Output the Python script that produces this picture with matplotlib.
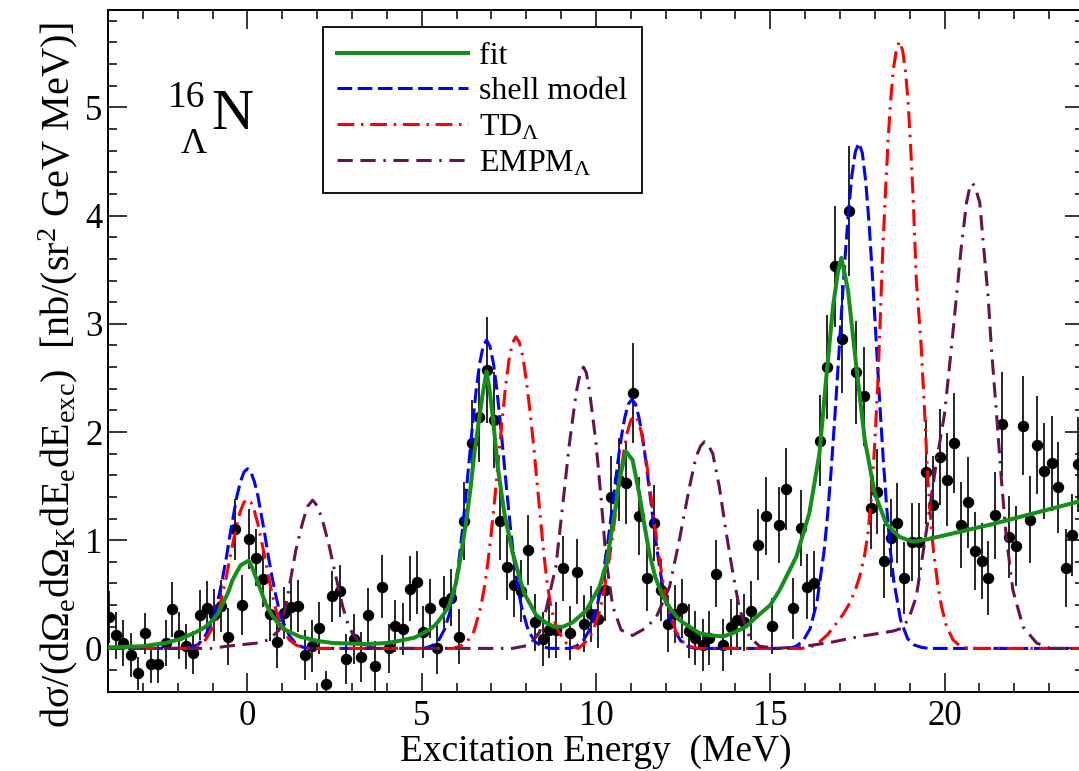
import matplotlib
matplotlib.use("Agg")
import numpy as np
import matplotlib.pyplot as plt
from matplotlib.ticker import MultipleLocator

plt.rcParams['font.family'] = ['Liberation Serif', 'DejaVu Serif']
plt.rcParams['mathtext.fontset'] = 'custom'
plt.rcParams['mathtext.rm'] = 'Liberation Serif'
plt.rcParams['mathtext.it'] = 'Liberation Serif:italic'
plt.rcParams['mathtext.bf'] = 'Liberation Serif:bold'

# - measured spectrum (excitation energy [MeV], cross section, error)
e_data = [-3.97, -3.76, -3.57, -3.34, -3.15, -2.95, -2.76, -2.56, -2.35, -2.15,
          -1.96, -1.75, -1.55, -1.36, -1.16, -0.95, -0.76, -0.55, -0.36, -0.16,
          0.05, 0.24, 0.45, 0.64, 0.84, 1.05, 1.25, 1.46, 1.66, 1.85,
          2.04, 2.25, 2.44, 2.65, 2.84, 3.06, 3.25, 3.45, 3.66, 3.85,
          4.05, 4.24, 4.45, 4.65, 4.86, 5.04, 5.24, 5.45, 5.64, 5.84,
          6.06, 6.22, 6.43, 6.65, 6.86, 7.07, 7.25, 7.45, 7.66, 7.86,
          8.05, 8.26, 8.47, 8.66, 8.85, 9.05, 9.26, 9.46, 9.65, 9.86,
          10.06, 10.27, 10.44, 10.65, 10.86, 11.05, 11.24, 11.46, 11.66, 11.87,
          12.06, 12.27, 12.46, 12.66, 12.85, 13.07, 13.25, 13.44, 13.64, 13.86,
          14.04, 14.24, 14.45, 14.64, 14.87, 15.05, 15.25, 15.46, 15.65, 15.87,
          16.06, 16.25, 16.44, 16.63, 16.85, 17.05, 17.26, 17.46, 17.68, 17.88,
          18.07, 18.26, 18.45, 18.64, 18.85, 19.06, 19.26, 19.46, 19.67, 19.86,
          20.07, 20.26, 20.47, 20.66, 20.87, 21.06, 21.26, 21.46, 21.66, 21.85,
          22.06, 22.25, 22.46, 22.65, 22.86, 23.07, 23.26, 23.47, 23.66, 23.83]
xs_data = [0.29, 0.12, 0.05, -0.06, -0.23, 0.14, -0.14, -0.14, 0.05, 0.36,
           0.12, 0.02, -0.04, 0.31, 0.37, 0.31, 0.39, 0.11, 1.10, 0.40,
           1.01, 0.84, 0.64, 0.32, 0.06, 0.33, 0.38, 0.39, -0.06, 0.02,
           0.19, -0.33, 0.48, 0.53, -0.10, 0.09, -0.08, 0.31, -0.16, 0.57,
           0.00, 0.21, 0.18, 0.55, 0.61, 0.15, 0.37, 0.00, 0.43, 0.47,
           0.11, 1.18, 1.90, 2.14, 2.57, 2.11, 1.18, 0.75, 0.59, 0.53,
           0.91, 0.24, 0.09, 0.17, 0.17, 0.74, 0.14, 0.71, 0.23, 0.32,
           0.27, 0.54, 1.40, 1.56, 1.53, 2.36, 1.22, 0.65, 1.16, 0.54,
           0.23, 0.32, 0.37, 0.16, 0.10, 0.03, 0.10, 0.69, 0.03, 0.20,
           0.26, 0.24, 0.35, 0.96, 1.22, 0.21, 1.14, 1.47, 0.37, 1.11,
           0.57, 0.60, 1.92, 2.60, 3.53, 2.86, 4.04, 2.55, 2.33, 1.30,
           1.45, 0.81, 1.02, 1.16, 0.65, 0.98, 0.98, 1.63, 1.33, 1.77,
           1.56, 1.90, 1.14, 1.35, 0.90, 0.81, 0.65, 1.23, 2.07, 1.03,
           0.95, 2.06, 1.19, 1.88, 1.64, 1.71, 1.49, 0.74, 1.05, 1.70]
err_data = [0.24, 0.22, 0.21, 0.20, 0.15, 0.19, 0.18, 0.18, 0.21, 0.25,
            0.22, 0.21, 0.20, 0.23, 0.25, 0.24, 0.24, 0.26, 0.28, 0.28,
            0.28, 0.26, 0.26, 0.25, 0.24, 0.24, 0.25, 0.24, 0.23, 0.24,
            0.24, 0.12, 0.24, 0.24, 0.23, 0.23, 0.23, 0.25, 0.23, 0.29,
            0.23, 0.24, 0.24, 0.30, 0.29, 0.24, 0.27, 0.24, 0.24, 0.26,
            0.25, 0.36, 0.40, 0.42, 0.49, 0.44, 0.36, 0.30, 0.30, 0.29,
            0.32, 0.26, 0.25, 0.26, 0.26, 0.30, 0.25, 0.30, 0.26, 0.26,
            0.27, 0.29, 0.38, 0.38, 0.38, 0.46, 0.36, 0.30, 0.35, 0.29,
            0.26, 0.27, 0.27, 0.25, 0.25, 0.24, 0.25, 0.31, 0.24, 0.26,
            0.26, 0.26, 0.27, 0.33, 0.36, 0.26, 0.35, 0.38, 0.28, 0.35,
            0.30, 0.30, 0.42, 0.48, 0.56, 0.50, 0.60, 0.48, 0.46, 0.38,
            0.39, 0.34, 0.36, 0.37, 0.33, 0.36, 0.36, 0.48, 0.45, 0.44,
            0.43, 0.46, 0.40, 0.42, 0.36, 0.35, 0.34, 0.40, 0.48, 0.38,
            0.37, 0.46, 0.40, 0.45, 0.44, 0.44, 0.42, 0.36, 0.38, 0.44]

# - fit
e_fit = [-4.0, -3.0, -2.35, -1.9, -1.48, -1.2, -1.0, -0.85, -0.71, -0.55,
         -0.43, -0.30, -0.19, 0.03, 0.12, 0.24, 0.38, 0.53, 0.70, 0.86,
         1.1, 1.49, 2.0, 2.44, 3.40, 4.0, 4.36, 4.8, 5.03, 5.21,
         5.40, 5.50, 5.64, 5.79, 5.98, 6.12, 6.27, 6.40, 6.51, 6.63,
         6.74, 6.86, 6.95, 7.04, 7.18, 7.37, 7.61, 7.94, 8.28, 8.55,
         8.80, 9.05, 9.33, 9.72, 10.10, 10.30, 10.44, 10.56, 10.67, 10.86,
         11.05, 11.24, 11.40, 11.53, 11.70, 11.92, 12.15, 12.40, 12.97, 13.30,
         13.64, 13.92, 14.30, 14.60, 15.0, 15.27, 15.75, 16.12, 16.41, 16.60,
         16.80, 16.95, 17.04, 17.23, 17.47, 17.71, 18.00, 18.33, 18.71, 19.05,
         19.19, 19.67, 21.39, 24.0]
xs_fit = [0.01, 0.02, 0.05, 0.09, 0.15, 0.20, 0.26, 0.32, 0.41, 0.52,
          0.63, 0.71, 0.77, 0.81, 0.76, 0.66, 0.54, 0.41, 0.31, 0.24,
          0.17, 0.11, 0.07, 0.05, 0.04, 0.05, 0.07, 0.10, 0.14, 0.17,
          0.22, 0.26, 0.32, 0.40, 0.60, 0.85, 1.16, 1.48, 1.80, 2.08,
          2.33, 2.56, 2.38, 2.14, 1.68, 1.25, 0.88, 0.51, 0.31, 0.24,
          0.20, 0.20, 0.24, 0.35, 0.57, 0.78, 1.06, 1.30, 1.56, 1.82,
          1.74, 1.43, 1.12, 0.88, 0.66, 0.48, 0.36, 0.26, 0.14, 0.12,
          0.11, 0.14, 0.20, 0.29, 0.40, 0.54, 0.85, 1.25, 1.80, 2.48,
          3.16, 3.50, 3.61, 3.31, 2.60, 1.93, 1.43, 1.15, 1.03, 0.99,
          0.99, 1.02, 1.15, 1.37]

# - shell model
e_sm = [-4.0, -1.8, -1.6, -1.4, -1.2, -1.0, -0.9, -0.8, -0.7, -0.6,
        -0.5, -0.4, -0.3, -0.2, -0.1, 0.0, 0.1, 0.2, 0.3, 0.4,
        0.5, 0.6, 0.7, 0.8, 0.9, 1.0, 1.2, 1.4, 1.6, 1.8,
        5.06, 5.26, 5.46, 5.66, 5.86, 5.96, 6.06, 6.16, 6.26, 6.36,
        6.46, 6.56, 6.66, 6.76, 6.86, 6.96, 7.06, 7.16, 7.26, 7.36,
        7.46, 7.56, 7.66, 7.76, 7.86, 8.06, 8.26, 8.46, 8.66,
        9.23, 9.43, 9.63, 9.83, 10.03, 10.13, 10.23, 10.33, 10.43, 10.53,
        10.63, 10.73, 10.83, 10.93, 11.03, 11.13, 11.23, 11.33, 11.43, 11.53,
        11.63, 11.73, 11.83, 11.93, 12.03, 12.23, 12.43, 12.63, 12.83,
        15.54, 15.74, 15.94, 16.14, 16.34, 16.54, 16.64, 16.74, 16.84, 16.94,
        17.04, 17.14, 17.24, 17.34, 17.44, 17.54, 17.64, 17.74, 17.84, 17.94,
        18.04, 18.14, 18.24, 18.34, 18.44, 18.54, 18.74, 18.94, 19.14, 19.34,
        19.54, 24.0]
xs_sm = [0.0, 0.0, 0.01, 0.04, 0.12, 0.26, 0.37, 0.51, 0.67, 0.85,
         1.05, 1.23, 1.41, 1.54, 1.63, 1.66, 1.63, 1.54, 1.41, 1.23,
         1.05, 0.85, 0.67, 0.51, 0.37, 0.26, 0.12, 0.04, 0.01, 0.0,
         0.0, 0.02, 0.06, 0.18, 0.39, 0.56, 0.79, 1.07, 1.39, 1.73,
         2.07, 2.38, 2.63, 2.79, 2.85, 2.79, 2.63, 2.38, 2.07, 1.73,
         1.39, 1.07, 0.79, 0.56, 0.39, 0.16, 0.06, 0.02, 0.0,
         0.0, 0.02, 0.07, 0.18, 0.39, 0.54, 0.74, 0.96, 1.21, 1.47,
         1.73, 1.96, 2.14, 2.26, 2.30, 2.26, 2.14, 1.96, 1.73, 1.47,
         1.21, 0.96, 0.74, 0.54, 0.39, 0.18, 0.07, 0.02, 0.0,
         0.0, 0.02, 0.07, 0.18, 0.43, 0.89, 1.22, 1.62, 2.08, 2.58,
         3.09, 3.59, 4.02, 4.37, 4.59, 4.67, 4.58, 4.31, 3.90, 3.39,
         2.83, 2.27, 1.75, 1.30, 0.92, 0.63, 0.26, 0.09, 0.03, 0.01,
         0.0, 0.0]

# - TD_Lambda
e_td = [-4.0, -1.8, -1.6, -1.4, -1.2, -1.0, -0.9, -0.8, -0.7, -0.6,
        -0.5, -0.4, -0.3, -0.2, -0.1, 0.0, 0.1, 0.2, 0.3, 0.4,
        0.5, 0.6, 0.7, 0.8, 0.9, 1.0, 1.2, 1.4, 1.6, 1.8,
        5.9, 6.1, 6.3, 6.5, 6.7, 6.8, 6.9, 7.0, 7.1, 7.2,
        7.3, 7.4, 7.5, 7.6, 7.7, 7.8, 7.9, 8.0, 8.1, 8.2,
        8.3, 8.4, 8.5, 8.6, 8.7, 8.8, 8.9, 9.1, 9.3, 9.5,
        9.5, 9.7, 9.9, 10.1, 10.2, 10.3, 10.4, 10.5, 10.6, 10.7,
        10.8, 10.9, 11.0, 11.1, 11.2, 11.3, 11.4, 11.5, 11.6, 11.7,
        11.8, 11.9, 12.0, 12.1, 12.3, 12.5, 12.7, 12.9,
        15.9, 16.2, 16.41, 16.65, 16.89, 17.1, 17.28, 17.45, 17.56, 17.7,
        17.80, 17.90, 17.99, 18.09, 18.16, 18.23, 18.31, 18.38, 18.45, 18.53,
        18.62, 18.71, 18.80, 18.88, 18.95, 19.02, 19.10, 19.19, 19.33, 19.43,
        19.52, 19.60, 19.67, 19.80, 19.91, 20.05, 20.24, 20.45, 20.7, 24.0]
xs_td = [0.0, 0.0, 0.01, 0.03, 0.08, 0.19, 0.27, 0.38, 0.52, 0.67,
         0.84, 1.00, 1.15, 1.27, 1.35, 1.38, 1.35, 1.27, 1.15, 1.00,
         0.84, 0.67, 0.52, 0.38, 0.27, 0.19, 0.08, 0.03, 0.01, 0.0,
         0.0, 0.02, 0.06, 0.16, 0.39, 0.57, 0.80, 1.08, 1.40, 1.75,
         2.09, 2.40, 2.66, 2.82, 2.88, 2.83, 2.70, 2.48, 2.21, 1.91,
         1.57, 1.22, 0.88, 0.60, 0.40, 0.26, 0.17, 0.06, 0.02, 0.0,
         0.0, 0.06, 0.15, 0.34, 0.48, 0.66, 0.87, 1.10, 1.35, 1.60,
         1.82, 2.00, 2.11, 2.15, 2.11, 2.00, 1.82, 1.60, 1.35, 1.10,
         0.87, 0.66, 0.48, 0.34, 0.15, 0.06, 0.02, 0.0,
         0.0, 0.02, 0.06, 0.13, 0.23, 0.32, 0.42, 0.55, 0.66, 0.85,
         1.06, 1.40, 1.86, 2.48, 3.10, 3.71, 4.25, 4.70, 5.05, 5.35,
         5.54, 5.61, 5.52, 5.33, 5.07, 4.68, 4.15, 3.40, 2.79, 2.17,
         1.56, 1.20, 0.94, 0.60, 0.39, 0.21, 0.08, 0.02, 0.0, 0.0]

# - EMPM_Lambda
e_em = [-4.0, -1.0, -0.6, -0.3, 0.0, 0.3, 0.62, 0.91, 1.10, 1.25,
        1.39, 1.58, 1.72, 1.87, 2.0, 2.15, 2.35, 2.54, 2.73, 2.87,
        3.01, 3.2, 3.40, 3.7, 7.6, 8.09, 8.38, 8.57, 8.85, 9.04,
        9.24, 9.43, 9.55, 9.64, 9.72, 9.81, 10.0, 10.15, 10.29, 10.48,
        10.72, 11.05, 11.44, 11.73, 12.11, 12.39, 12.68, 12.87, 13.0, 13.11,
        13.22, 13.35, 13.54, 13.74, 13.93, 14.12, 14.40, 14.69, 15.2, 16.0,
        16.8, 17.56, 18.52, 18.81, 19.0, 19.19, 19.48, 19.76, 20.0, 20.20,
        20.34, 20.48, 20.63, 20.72, 20.80, 20.88, 21.01, 21.12, 21.25, 21.34,
        21.49, 21.63, 21.77, 21.96, 22.25, 22.64, 23.02, 24.0]
xs_em = [0.0, 0.0, 0.02, 0.03, 0.04, 0.05, 0.08, 0.17, 0.39, 0.66,
         0.91, 1.16, 1.31, 1.37, 1.32, 1.19, 0.94, 0.66, 0.39, 0.24,
         0.14, 0.06, 0.02, 0.0, 0.0, 0.03, 0.15, 0.36, 0.76, 1.31,
         1.90, 2.36, 2.55, 2.60, 2.55, 2.39, 1.90, 1.37, 0.82, 0.39,
         0.17, 0.12, 0.19, 0.29, 0.57, 1.00, 1.49, 1.77, 1.87, 1.91,
         1.88, 1.80, 1.49, 1.06, 0.69, 0.36, 0.11, 0.02, 0.0, 0.02,
         0.06, 0.11, 0.16, 0.19, 0.30, 0.48, 1.09, 1.71, 2.17, 2.79,
         3.25, 3.71, 4.12, 4.26, 4.30, 4.26, 4.12, 3.71, 3.25, 2.79,
         2.17, 1.56, 1.03, 0.54, 0.20, 0.05, 0.0, 0.0]

# - plot
W, H = 1079, 771
fig = plt.figure(figsize=(W / 100, H / 100), dpi=100)
ax = fig.add_axes([108 / W, 1 - 691.7 / H, 976 / W, 681.7 / H])

ax.errorbar(e_data, xs_data, yerr=err_data, fmt='o', color='black', ms=7.2,
            elinewidth=1.2, capsize=0, zorder=2)
ax.plot(e_fit, xs_fit, color='#14901a', lw=2.9, label='fit', zorder=4)
ax.plot(e_sm, xs_sm, color='#0000ff', lw=2.2, ls=(0, (4.8, 1.8)),
        label='shell model', zorder=3)
ax.plot(e_td, xs_td, color='#ff0000', lw=2.2, ls=(0, (5.5, 2.2, 0.8, 2.2)),
        label=r'TD$_\Lambda$', zorder=3)
ax.plot(e_em, xs_em, color='#661450', lw=2.2,
        ls=(0, (5.0, 2.5, 5.0, 2.5, 0.8, 2.5)), label=r'EMPM$_\Lambda$', zorder=3)

ax.set_xlim(-4, 24)
ax.set_ylim(-0.4, 5.9)
ax.xaxis.set_major_locator(MultipleLocator(5))
ax.xaxis.set_minor_locator(MultipleLocator(1))
ax.yaxis.set_major_locator(MultipleLocator(1))
ax.yaxis.set_minor_locator(MultipleLocator(0.2))
ax.tick_params(which='both', direction='in', top=True, right=True, width=1.1,
               labelsize=25)
ax.tick_params(which='major', length=13.5, pad=6)
ax.tick_params(which='minor', length=6.5)
ax.tick_params(axis='y', which='major', pad=4)
for s in ax.spines.values():
    s.set_linewidth(1.4)

ax.set_xlabel('Excitation Energy  (MeV)', fontsize=27)
ax.xaxis.set_label_coords(0.5, -0.063)
ax.set_ylabel('d\u03c3/(d\u03a9$_\\mathrm{e}$d\u03a9$_\\mathrm{K}$dE$_\\mathrm{e}$dE$_\\mathrm{exc}$)  '
              '[nb/(sr$^2$ GeV MeV)]', fontsize=29)
ax.yaxis.set_label_coords(-0.0287, 0.4646)

fig.text(168 / W, 1 - 107 / H, '16', fontsize=27, va='baseline', ha='left')
fig.text(181 / W, 1 - 153 / H, '\u039b', fontsize=26, va='baseline', ha='left')
fig.text(211 / W, 1 - 129 / H, 'N', fontsize=42, va='baseline', ha='left')

leg = ax.legend(loc='upper left', bbox_to_anchor=(323 / W, 1 - 27 / H),
                bbox_transform=fig.transFigure, borderaxespad=0, fontsize=23,
                handlelength=4.1, handletextpad=0.33, borderpad=0.45,
                labelspacing=0.2, fancybox=False, framealpha=1)
leg.get_frame().set_edgecolor('black')
leg.get_frame().set_linewidth(1.3)

plt.savefig('out.png', dpi=100)
